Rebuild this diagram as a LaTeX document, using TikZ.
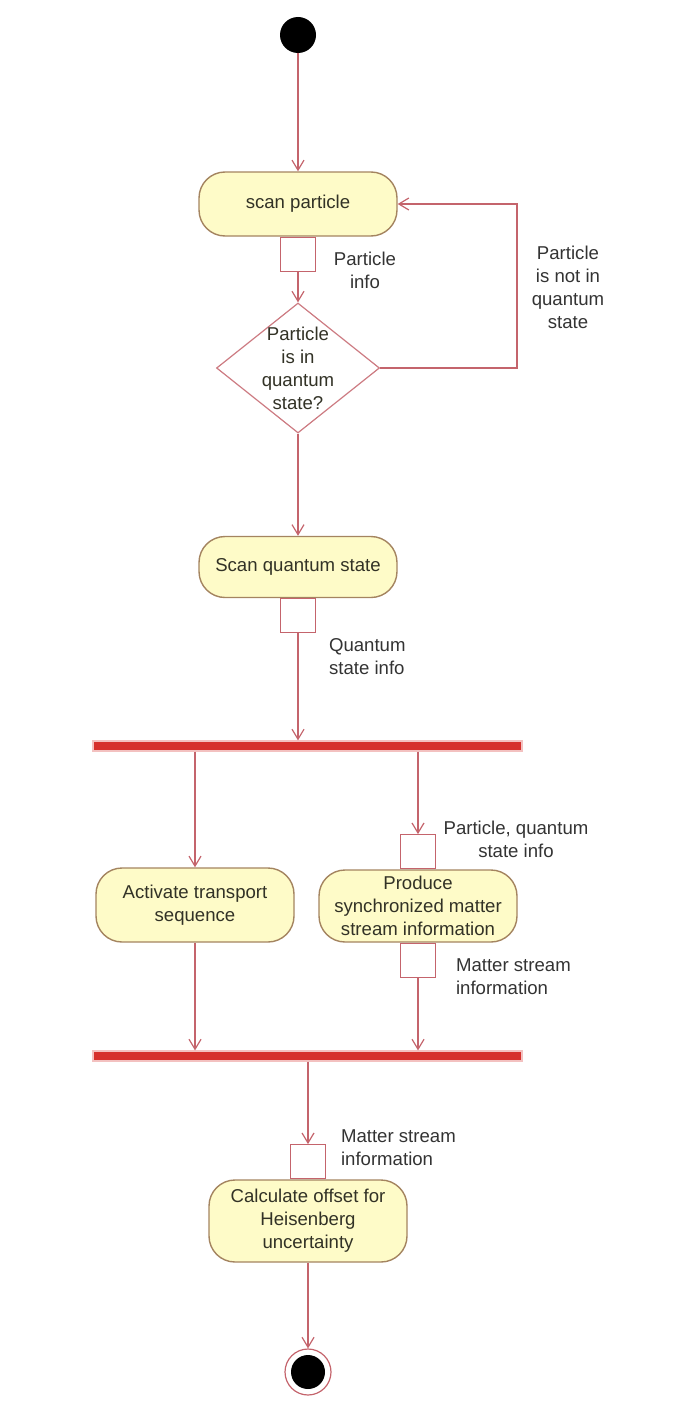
\documentclass[tikz,border=0pt]{standalone}
\usepackage{fontspec}
\setmainfont{Liberation Sans}
\usetikzlibrary{shapes.geometric,arrows.meta,positioning}
\definecolor{flowc}{RGB}{196,100,108}
\definecolor{boxfill}{RGB}{254,251,200}
\definecolor{boxline}{RGB}{164,132,96}
\definecolor{barc}{RGB}{214,48,44}
\definecolor{txtc}{RGB}{50,50,38}
\begin{document}
\begin{tikzpicture}[x=0.5pt, y=-0.5pt,
    every node/.style={font=\fontsize{9.3pt}{11.5pt}\selectfont, text=txtc},
    action/.style={draw=boxline, fill=boxfill, rounded corners=13pt, line width=0.7pt,
        minimum width=99pt, align=center, inner sep=1pt},
    pin/.style={draw=flowc, fill=white, line width=0.6pt, minimum width=17.5pt,
        minimum height=17pt, inner sep=0pt},
    decision/.style={diamond, draw=flowc!85, fill=white, line width=0.6pt,
        minimum width=81.5pt, minimum height=65pt, inner sep=0pt},
    bar/.style={fill=barc, draw=barc!30, line width=0.8pt, minimum width=214.5pt,
        minimum height=4.8pt, inner sep=0pt},
    flow/.style={draw=flowc, line width=0.6pt, -{Straight Barb[length=5pt, width=6pt]}},
    note/.style={align=center, text=black!80}]
    \useasboundingbox (0, 0) rectangle (680, 1418);
    % start and first action
    \node [circle, fill=black, minimum size=18pt, inner sep=0pt] (start) at (298, 35) {};
    \node [action, minimum height=32pt] (scan) at (298, 204) {scan particle};
    \node [pin, below=0pt of scan] (pinA) {};
    \node [note] at (365, 270) {Particle\\info};
    % decision
    \node [decision] (dec) at (298, 368) {};
    \node [align=center] at (dec) {Particle\\is in\\quantum\\state?};
    \coordinate (loop) at (517, 204);
    \node [note] at (568, 287) {Particle\\is not in\\quantum\\state};
    % second action
    \node [action, minimum height=30.5pt] (scanq) at (298, 567) {Scan quantum state};
    \node [pin, below=0pt of scanq] (pinB) {};
    \node [note, align=left, anchor=west] at (322, 657) {Quantum\\state info};
    % fork
    \node [bar] (fork) at (307.5, 746) {};
    \node [action, minimum height=37pt] (act) at (195, 905) {Activate transport\\sequence};
    \node [action, minimum height=36pt] (prod) at (418, 906)
        {Produce\\synchronized matter\\stream information};
    \node [pin, above=0pt of prod] (pinC) {};
    \node [pin, below=0pt of prod] (pinD) {};
    \node [note] at (516, 839) {Particle, quantum\\state info};
    \node [note, align=left, anchor=west] at (449, 977) {Matter stream\\information};
    % join
    \node [bar] (join) at (307.5, 1056) {};
    \node [action, minimum height=41pt] (calc) at (308, 1221)
        {Calculate offset for\\Heisenberg\\uncertainty};
    \node [pin, above=0pt of calc] (pinE) {};
    \node [note, align=left, anchor=west] at (334, 1148) {Matter stream\\information};
    % end
    \node [circle, draw=flowc, line width=0.6pt, minimum size=23pt, inner sep=0pt] (end) at (308, 1372) {};
    \node [circle, fill=black, minimum size=17pt, inner sep=0pt] at (end) {};

    \draw [flow] (start.south) -- (scan.north);
    \draw [flow] (pinA.south) -- (dec.north);
    \draw [flow] (dec.east) -| (loop) -- (scan.east);
    \draw [flow] (dec.south) -- (scanq.north);
    \draw [flow] (pinB.south) -- (pinB.south |- fork.north);
    \draw [flow] (act.north |- fork.south) -- (act.north);
    \draw [flow] (pinC.north |- fork.south) -- (pinC.north);
    \draw [flow] (act.south) -- (act.south |- join.north);
    \draw [flow] (pinD.south) -- (pinD.south |- join.north);
    \draw [flow] (pinE.north |- join.south) -- (pinE.north);
    \draw [flow] (calc.south) -- (end.north);
\end{tikzpicture}
\end{document}
